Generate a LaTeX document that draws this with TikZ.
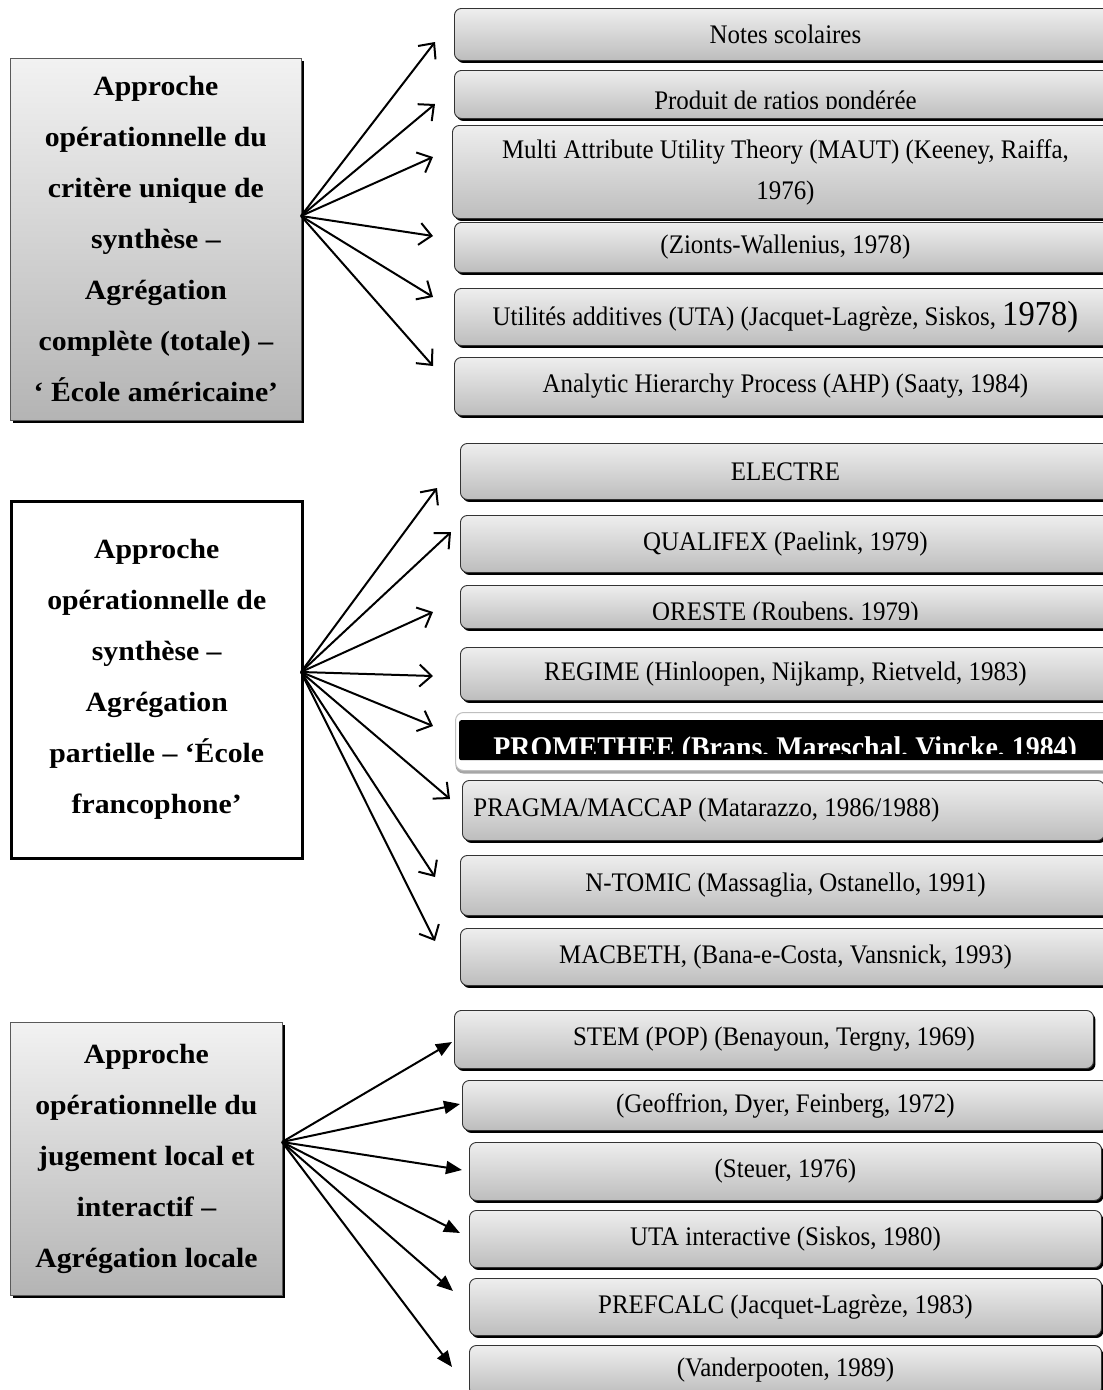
\documentclass[tikz,border=0pt]{standalone}
\usepackage{fontspec}
\setmainfont{Liberation Serif}[FakeStretch=0.93]
\newfontfamily\headfont{Liberation Serif}[FakeStretch=1.07]
\usetikzlibrary{arrows.meta,shadows}
\definecolor{boxtop}{HTML}{EEEEEE}
\definecolor{boxbot}{HTML}{BDBDBD}
\definecolor{headtop}{HTML}{F2F2F2}
\definecolor{headbot}{HTML}{B4B4B4}
\tikzset{
  rbox/.style={anchor=north west, draw=black!80, line width=0.9pt,
    rounded corners=7pt, top color=boxtop, bottom color=boxbot,
    general shadow={fill=black, shadow xshift=2pt, shadow yshift=-2.5pt},
    inner sep=0pt, align=center, font=\fontsize{26.8}{41}\selectfont},
  headbox/.style={anchor=north west, inner sep=0pt, align=center,
    font=\headfont\bfseries\fontsize{27.8}{51}\selectfont},
  shadedhead/.style={headbox, draw=black!65, line width=0.8pt,
    top color=headtop, bottom color=headbot,
    general shadow={fill=black, shadow xshift=3pt, shadow yshift=-3pt}},
  plainhead/.style={headbox, draw=black, line width=2.5pt, fill=white,
    general shadow={fill=black, shadow xshift=2pt, shadow yshift=-2pt}},
  openarrow/.style={draw=black, line width=2pt,
    -{Straight Barb[length=12pt, width=22pt, line width=2pt]}},
  fullarrow/.style={draw=black, line width=2pt,
    -{Triangle[length=16pt, width=13pt]}},
  cuttext/.style={anchor=base, inner sep=0pt, font=\fontsize{26.8}{41}\selectfont}
}
\begin{document}
\begin{tikzpicture}[x=1pt,y=-1pt]
\useasboundingbox (0,0) rectangle (1103,1390);

% ---------- first family: single synthesis criterion ----------
\node[shadedhead, minimum width=291pt, minimum height=362pt] (L1) at (10,58)
  {Approche\\opérationnelle du\\critère unique de\\synthèse –\\Agrégation\\complète (totale) –\\‘ École américaine’};

\node[rbox, minimum width=662pt, minimum height=52pt] (b1) at (454,8) {Notes scolaires};
\node[rbox, minimum width=662pt, minimum height=48pt, path picture={
    \clip ([yshift=9.5pt]path picture bounding box.south west) rectangle (path picture bounding box.north east);
    \node[cuttext] (b2t) at ([yshift=8.8pt]path picture bounding box.south) {Produit de ratios pondérée};
  }] (b2) at (454,70) {};
\node[rbox, minimum width=666pt, minimum height=93pt] (b3) at (452,125)
  {Multi Attribute Utility Theory (MAUT) (Keeney, Raiffa,\\1976)};
\node[rbox, minimum width=662pt, minimum height=50pt] (b4) at (454,222) {(Zionts-Wallenius, 1978)};
\node[rbox, minimum width=662pt, minimum height=57pt] (b5) at (454,288)
  {Utilités additives (UTA) (Jacquet-Lagrèze, Siskos, {\fontsize{35}{41}\selectfont 1978)}};
\node[rbox, minimum width=662pt, minimum height=58pt] (b6) at (454,357)
  {Analytic Hierarchy Process (AHP) (Saaty, 1984)};

\coordinate (o1) at (301,216);
\coordinate (a1) at (435,42);
\coordinate (a2) at (435,104);
\coordinate (a3) at (433,157);
\coordinate (a4) at (433,236);
\coordinate (a5) at (433,297);
\coordinate (a6) at (433,366);
\foreach \k in {1,...,6} \draw[openarrow] (o1) -- (a\k);

% ---------- second family: partial aggregation ----------
\node[plainhead, minimum width=291pt, minimum height=357pt] (L2) at (10,500)
  {Approche\\opérationnelle de\\synthèse –\\Agrégation\\partielle – ‘École\\francophone’};

\node[rbox, minimum width=650pt, minimum height=56pt] (c1) at (460,443) {ELECTRE};
\node[rbox, minimum width=650pt, minimum height=57pt] (c2) at (460,515) {QUALIFEX (Paelink, 1979)};
\node[rbox, minimum width=650pt, minimum height=43pt, path picture={
    \clip ([yshift=9pt]path picture bounding box.south west) rectangle (path picture bounding box.north east);
    \node[cuttext] (c3t) at ([yshift=8.3pt]path picture bounding box.south) {ORESTE (Roubens, 1979)};
  }] (c3) at (460,585) {};
\node[rbox, minimum width=650pt, minimum height=53pt] (c4) at (460,647)
  {REGIME (Hinloopen, Nijkamp, Rietveld, 1983)};
\node[anchor=north west, minimum width=660pt, minimum height=58pt, rounded corners=8pt,
  fill=white, draw=black!25, line width=1pt,
  general shadow={fill=black!35, shadow yshift=-3pt}] (c5g) at (455,712) {};
\node[anchor=north west, minimum width=652pt, minimum height=40pt, fill=black,
  rounded corners=2pt, inner sep=0pt, path picture={
    \clip ([yshift=6.5pt]path picture bounding box.south west) rectangle (path picture bounding box.north east);
    \node[cuttext, text=white, font=\bfseries\fontsize{30}{41}\selectfont] (c5t)
      at ([yshift=3pt]path picture bounding box.south) {PROMETHEE (Brans, Mareschal, Vincke, 1984)};
  }] (c5) at (459,720) {};
\node[rbox, minimum height=60pt, text width=620pt, align=flush left, inner xsep=11pt] (c6) at (462,780)
  {PRAGMA/MACCAP (Matarazzo, 1986/1988)};
\node[rbox, minimum width=650pt, minimum height=60pt] (c7) at (460,855)
  {N-TOMIC (Massaglia, Ostanello, 1991)};
\node[rbox, minimum width=650pt, minimum height=57pt] (c8) at (460,928)
  {MACBETH, (Bana-e-Costa, Vansnick, 1993)};

\coordinate (o2) at (301,672);
\coordinate (p1) at (437,488);
\coordinate (p2) at (451,532);
\coordinate (p3) at (433,612);
\coordinate (p4) at (433,676);
\coordinate (p5) at (433,726);
\coordinate (p6) at (450,799);
\coordinate (p7) at (435,877);
\coordinate (p8) at (435,941);
\foreach \k in {1,...,8} \draw[openarrow] (o2) -- (p\k);

% ---------- third family: local aggregation ----------
\node[shadedhead, minimum width=272pt, minimum height=273pt] (L3) at (10,1022)
  {Approche\\opérationnelle du\\jugement local et\\interactif –\\Agrégation locale};

\node[rbox, minimum width=639pt, minimum height=58pt] (d1) at (454,1010)
  {STEM (POP) (Benayoun, Tergny, 1969)};
\node[rbox, minimum width=646pt, minimum height=50pt] (d2) at (462,1080)
  {(Geoffrion, Dyer, Feinberg, 1972)};
\node[rbox, minimum width=632pt, minimum height=58pt] (d3) at (469,1142) {(Steuer, 1976)};
\node[rbox, minimum width=632pt, minimum height=57pt] (d4) at (469,1210)
  {UTA interactive (Siskos, 1980)};
\node[rbox, minimum width=632pt, minimum height=57pt] (d5) at (469,1278)
  {PREFCALC (Jacquet-Lagrèze, 1983)};
\node[rbox, minimum width=632pt, minimum height=50pt] (d6) at (469,1345)
  {(Vanderpooten, 1989)};

\coordinate (o3) at (282,1142);
\coordinate (q1) at (452,1042);
\coordinate (q2) at (460,1104);
\coordinate (q3) at (462,1170);
\coordinate (q4) at (460,1233);
\coordinate (q5) at (453,1291);
\coordinate (q6) at (452,1367);
\foreach \k in {1,...,6} \draw[fullarrow] (o3) -- (q\k);
\end{tikzpicture}
\end{document}
